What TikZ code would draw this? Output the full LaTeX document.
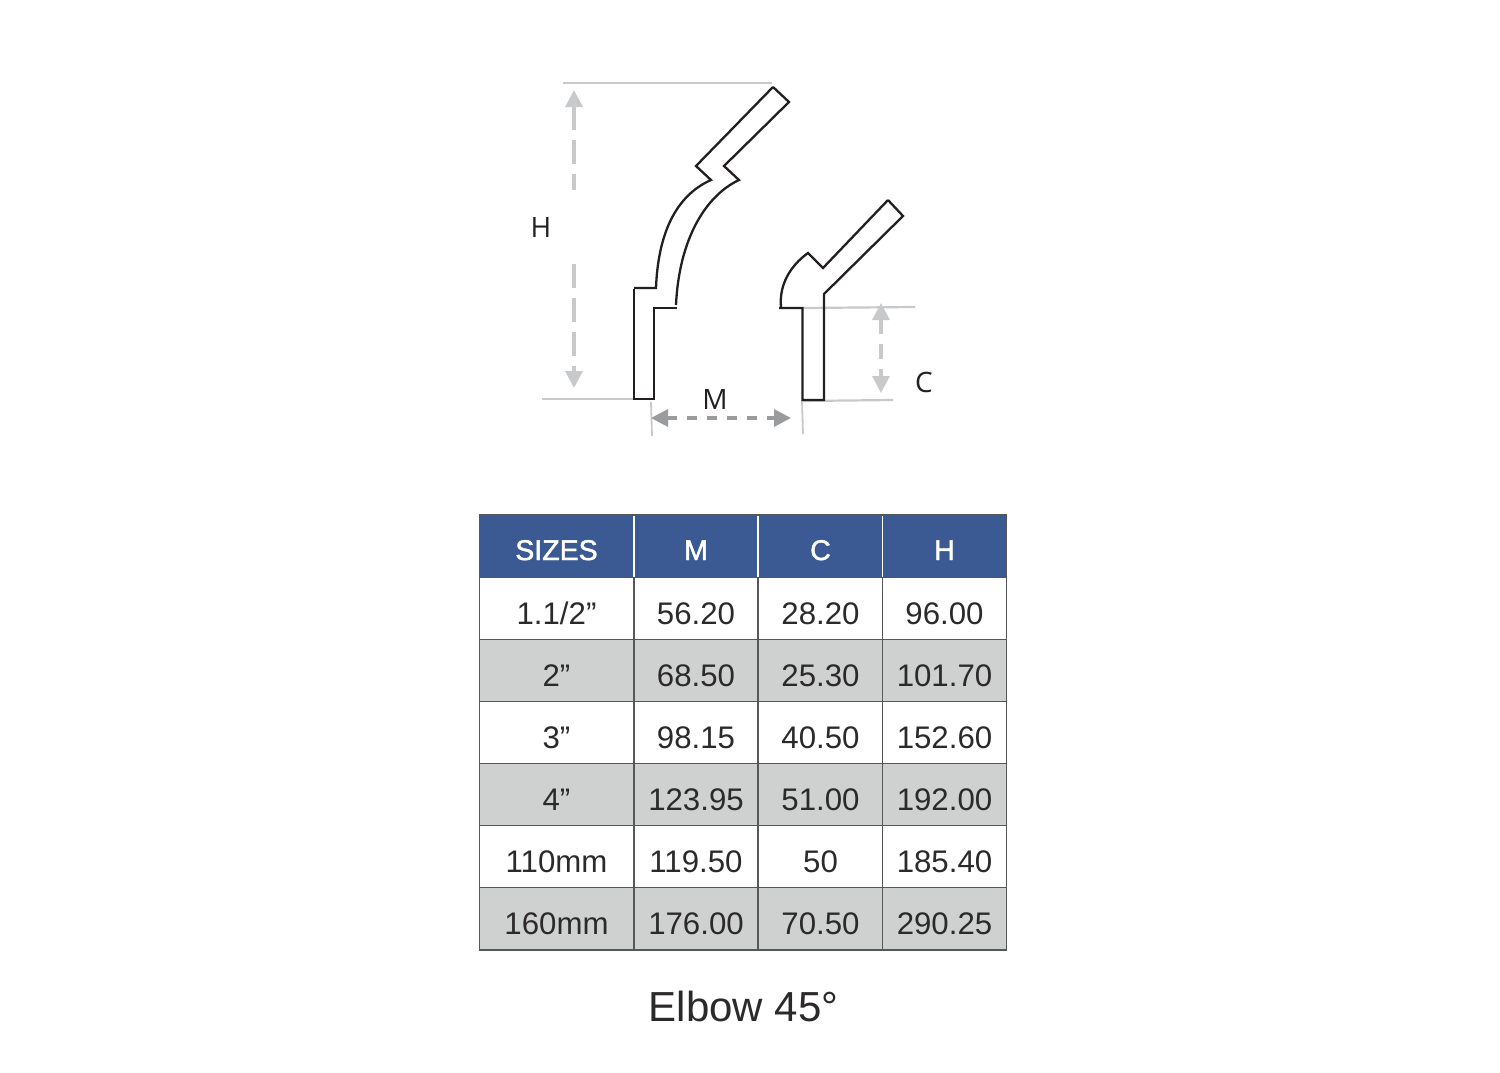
\documentclass[tikz,border=0pt]{standalone}
\usepackage{fontspec}
\setmainfont{Liberation Sans}
\newfontfamily\labelfont{Open Sans}
\newfontfamily\headfont[FakeBold=1.6]{Liberation Sans}
\usetikzlibrary{arrows.meta}
\definecolor{hdr}{HTML}{3B5A94}
\definecolor{rowgray}{HTML}{CFD1D0}
\definecolor{gridc}{HTML}{55575A}
\definecolor{dimc}{HTML}{C8C9CA}
\definecolor{dimd}{HTML}{9A9B9D}
\definecolor{ink}{HTML}{231F20}
\definecolor{txt}{HTML}{2B292A}
\tikzset{
  pipe/.style={draw=ink,line width=2.3pt,line join=miter,line cap=butt},
  extline/.style={draw=dimc,line width=2.2pt},
  tickline/.style={draw=dimc,line width=1.8pt},
  dimH/.style={draw=dimc,line width=3.2pt,dash pattern=on 24pt off 10pt},
  dimC/.style={draw=dimc,line width=3.2pt,dash pattern=on 15pt off 10pt},
  dimM/.style={draw=dimd,line width=3.2pt,dash pattern=on 10pt off 10pt},
  tipl/.tip={Triangle[length=17pt,width=17pt]},
  dimlabel/.style={font=\labelfont\fontsize{28}{28}\selectfont,text=ink,inner sep=0pt},
  cell/.style={font=\fontsize{31.2}{31}\selectfont,text=txt,anchor=base,inner sep=0pt},
  headcell/.style={font=\headfont\fontsize{28.5}{30}\selectfont,text=white,anchor=base,inner sep=0pt},
  title/.style={font=\fontsize{42}{44}\selectfont,text=txt,anchor=base,inner sep=0pt},
  grid/.style={draw=gridc,line width=1.3pt},
  hsep/.style={draw=white,line width=1.6pt}
}
\begin{document}
\begin{tikzpicture}[x=1pt,y=-1pt]
\useasboundingbox (0,0) rectangle (1500,1073);
\fill[white] (0,0) rectangle (1500,1073);

% extension lines
\coordinate (ht1) at (563,83); \coordinate (ht2) at (772,83);
\coordinate (hb1) at (542,399); \coordinate (hb2) at (634,399);
\coordinate (ml1) at (651,402); \coordinate (ml2) at (652,436);
\coordinate (mr1) at (802,400); \coordinate (mr2) at (803,434);
\coordinate (ct1) at (803,308); \coordinate (ct2) at (915,307);
\coordinate (cb1) at (802,401); \coordinate (cb2) at (893,400);
\draw[extline] (ht1) -- (ht2);
\draw[extline] (hb1) -- (hb2);
\draw[tickline] (ml1) -- (ml2);
\draw[tickline] (mr1) -- (mr2);
\draw[extline] (ct1) -- (ct2);
\draw[extline] (cb1) -- (cb2);

% large elbow
\draw[pipe] (773,87) -- (789,102) -- (724,166) -- (739,180)
  .. controls (705,196) and (679,240) .. (676,305);
\draw[pipe] (773,87) -- (696,166) -- (711,180)
  .. controls (675,196) and (658,235) .. (656,288) -- (634,288);
\draw[pipe] (634,289) -- (634,399) -- (654,399) -- (654,308) -- (677,308);

% small elbow
\draw[pipe] (888,200) -- (903,216) -- (824,294) -- (824,400) -- (802.5,400) -- (802.5,308) -- (779,308);
\draw[pipe] (888,200) -- (823,268) -- (808,253)
  .. controls (790,266) and (779,285) .. (781,307);

% dimension arrows
\coordinate (ha) at (574,90); \coordinate (hg1) at (574,190);
\coordinate (hg2) at (574,264); \coordinate (hc) at (574,388);
\draw[dimH,{tipl}-] (ha) -- (hg1);
\draw[dimH,-{tipl}] (hg2) -- (hc);
\coordinate (ca) at (881,303); \coordinate (cc) at (881,393);
\draw[dimC,{tipl}-{tipl}] (ca) -- (cc);
\coordinate (ma) at (651,418); \coordinate (mc) at (791,418);
\draw[dimM,{tipl}-{tipl}] (ma) -- (mc);

\node[dimlabel] (labH) at (541,228) {H};
\node[dimlabel] (labM) at (715,400) {M};
\node[dimlabel] (labC) at (924,382) {C};

% table fills
\fill[hdr] (479.5,515) rectangle (1006.5,577.5);
\fill[rowgray] (479.5,639.5) rectangle (1006.5,701.5);
\fill[rowgray] (479.5,763.5) rectangle (1006.5,825.5);
\fill[rowgray] (479.5,887.5) rectangle (1006.5,950);

% grid
\foreach \x in {634,758,882.5}{
  \draw[hsep] (\x,515.5) -- (\x,577);
  \draw[grid] (\x,577.5) -- (\x,950);
}
\foreach \y in {577.5,639.5,701.5,763.5,825.5,887.5}{
  \draw[grid] (479.5,\y) -- (1006.5,\y);
}
\draw[grid] (479.5,515) rectangle (1006.5,950);

% header
\node[headcell] (h1) at (556.5,560) {SIZES};
\node[headcell] (h2) at (696,560) {M};
\node[headcell] (h3) at (820.5,560) {C};
\node[headcell] (h4) at (944.5,560) {H};

% rows
\node[cell] (a1) at (556.5,624.5) {1.1/2”};
\node[cell] (b1) at (696,624.5) {56.20};
\node[cell] (c1) at (820.5,624.5) {28.20};
\node[cell] (d1) at (944.5,624.5) {96.00};

\node[cell] (a2) at (556.5,686.5) {2”};
\node[cell] (b2) at (696,686.5) {68.50};
\node[cell] (c2) at (820.5,686.5) {25.30};
\node[cell] (d2) at (944.5,686.5) {101.70};

\node[cell] (a3) at (556.5,748.5) {3”};
\node[cell] (b3) at (696,748.5) {98.15};
\node[cell] (c3) at (820.5,748.5) {40.50};
\node[cell] (d3) at (944.5,748.5) {152.60};

\node[cell] (a4) at (556.5,810.5) {4”};
\node[cell] (b4) at (696,810.5) {123.95};
\node[cell] (c4) at (820.5,810.5) {51.00};
\node[cell] (d4) at (944.5,810.5) {192.00};

\node[cell] (a5) at (556.5,872.5) {110mm};
\node[cell] (b5) at (696,872.5) {119.50};
\node[cell] (c5) at (820.5,872.5) {50};
\node[cell] (d5) at (944.5,872.5) {185.40};

\node[cell] (a6) at (556.5,934.5) {160mm};
\node[cell] (b6) at (696,934.5) {176.00};
\node[cell] (c6) at (820.5,934.5) {70.50};
\node[cell] (d6) at (944.5,934.5) {290.25};

\node[title] (cap) at (743.5,1021) {Elbow 45°};
\end{tikzpicture}
\end{document}
